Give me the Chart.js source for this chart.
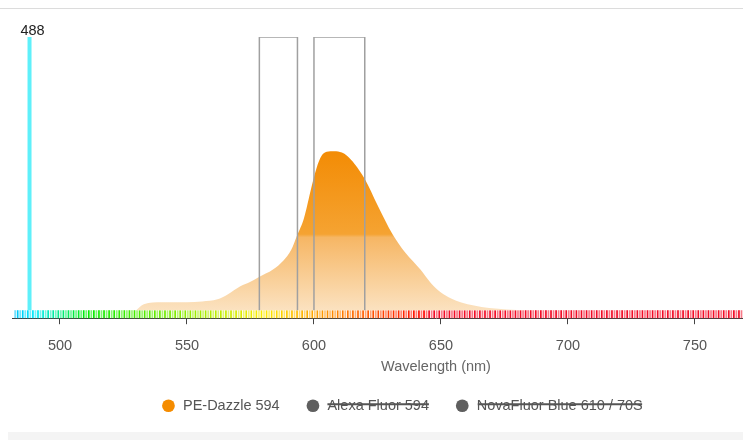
<!DOCTYPE html>
<html>
<head>
<meta charset="utf-8">
<title>PE-Dazzle 594</title>
<script src="https://cdn.jsdelivr.net/npm/chart.js@4.4.1/dist/chart.umd.min.js"></script>
<style>
  body { margin: 0; overflow: hidden; background: #fff; width: 743px; height: 440px; position: relative; }
  #linha { position: absolute; left: 0; top: 8px; width: 743px; height: 1px; background: #dcdcdc; }
  #rodape { position: absolute; left: 8px; top: 432px; width: 735px; height: 8px; background: #f4f4f4; }
  #grafico { position: absolute; left: 0; top: 0; }
</style>
</head>
<body>
<div id="linha"></div>
<div id="rodape"></div>
<canvas id="grafico" width="860" height="440"></canvas>

<script>
// espectro de emissao do PE-Dazzle 594 (% relativo)
const comprimentos = [530, 533, 540, 550, 556, 562, 566, 571, 575, 578, 584, 588, 591, 593.5, 596, 599, 601, 603, 605, 608, 611, 613, 616, 620, 625, 631, 636, 642, 646, 650, 654, 658, 663, 669, 676, 684];
const emissao = [0, 2.2, 2.9, 2.9, 3.2, 4.0, 5.8, 8.8, 10.4, 12.0, 15.0, 18.2, 22.0, 27.7, 33.5, 45.0, 52.0, 56.5, 58.0, 58.2, 57.7, 56.5, 53.5, 48.0, 38.5, 27.7, 21.0, 14.8, 10.0, 6.5, 4.3, 2.8, 1.7, 0.8, 0.3, 0];

// laser e filtros (centro / largura em nm)
const laser = 488;
const filtroCentro = [586, 610];
const filtroLargura = [15, 20];

const nomes = ['PE-Dazzle 594', 'Alexa Fluor 594', 'NovaFluor Blue 610 / 70S'];
const ticksX = [500, 550, 600, 650, 700, 750];

//cor aproximada de cada comprimento de onda
function corOnda(w, a) {
  let r = 0, g = 0, b = 0;
  if (w < 490) { r = 0; g = (w - 440) / 50; b = 1; }
  else if (w < 510) { r = 0; g = 1; b = (510 - w) / 20; }
  else if (w < 580) { r = (w - 510) / 70; g = 1; b = 0; }
  else if (w < 645) { r = 1; g = (645 - w) / 65; b = 0; }
  else { r = 0.95; g = 0.05; b = 0.15; }
  return 'rgba(' + Math.round(r * 255) + ',' + Math.round(g * 235) + ',' + Math.round(b * 250) + ',' + a + ')';
}

//faixa colorida embaixo do grafico
const faixa = {
  id: 'faixa',
  beforeDatasetsDraw(chart) {
    const {ctx, chartArea, scales: {x, y}} = chart;
    const topo = y.getPixelForValue(0);
    ctx.save();
    for (let nm = Math.ceil(x.min); nm <= x.max; nm++) {
      const px = x.getPixelForValue(nm);
      ctx.fillStyle = corOnda(nm, nm % 2 ? 1 : 0.55);
      ctx.fillRect(px, topo, 1.7, chartArea.bottom - topo);
    }
    ctx.restore();
  }
};

//texto do laser em cima da linha
const rotuloLaser = {
  id: 'rotuloLaser',
  afterDatasetsDraw(chart) {
    const {ctx, chartArea, scales: {x}} = chart;
    ctx.save();
    ctx.font = '14.5px "Liberation Sans", Arial, sans-serif';
    ctx.fillStyle = '#222';
    ctx.textAlign = 'center';
    ctx.textBaseline = 'middle';
    ctx.fillText(String(laser), x.getPixelForValue(laser) + 3, chartArea.top - 6);
    ctx.restore();
  }
};

//puxa a legenda um pouco pra esquerda
const legendaDesloca = {
  id: 'legendaDesloca',
  afterLayout(chart) {
    chart.legend.left -= 34;
    chart.legend.right -= 34;
  }
};

const dadosEspectro = comprimentos.map((w, i) => ({x: w, y: emissao[i]}));

const filtros = filtroCentro.map((c, i) => {
  const a = c - filtroLargura[i] / 2, b = c + filtroLargura[i] / 2;
  return {
    label: 'filtro ' + c + '/' + filtroLargura[i],
    data: [{x: a, y: 0}, {x: a, y: 100}, {x: b, y: 100}, {x: b, y: 0}],
    borderColor: 'rgb(160,160,160)',
    borderWidth: 1.5,
    pointRadius: 0,
    fill: false,
    order: -1
  };
});

Chart.defaults.font.family = '"Liberation Sans", Arial, sans-serif';
Chart.defaults.font.size = 14.5;

const grafico = new Chart(document.getElementById('grafico'), {
  type: 'line',
  data: {
    datasets: [
      {
        label: nomes[0],
        data: dadosEspectro,
        legendColor: 'rgb(245,140,0)',
        borderWidth: 0,
        pointRadius: 0,
        cubicInterpolationMode: 'monotone',
        fill: 'origin',
        backgroundColor: function (context) {
          const chart = context.chart;
          if (!chart.chartArea) return 'rgb(246,180,100)';
          const y = chart.scales.y;
          const g = chart.ctx.createLinearGradient(0, y.getPixelForValue(58), 0, y.getPixelForValue(0));
          g.addColorStop(0, 'rgb(243,140,5)');
          g.addColorStop(0.52, 'rgb(245,163,50)');
          g.addColorStop(0.54, 'rgb(246,182,100)');
          g.addColorStop(1, 'rgb(251,226,192)');
          return g;
        }
      },
      { label: nomes[1], data: [], hidden: true, legendColor: 'rgb(95,95,95)' },
      { label: nomes[2], data: [], hidden: true, legendColor: 'rgb(95,95,95)' },
      {
        label: 'laser',
        data: [{x: laser, y: 0}, {x: laser, y: 100}],
        borderColor: 'rgb(95,240,250)',
        borderWidth: 4,
        pointRadius: 0,
        fill: false
      },
      ...filtros
    ]
  },
  options: {
    responsive: false,
    animation: false,
    devicePixelRatio: 1,
    layout: { padding: { left: 12, top: 37, right: 0, bottom: 17 } },
    scales: {
      x: {
        type: 'linear',
        min: 481.1,
        max: 815,
        afterBuildTicks: function (axis) { axis.ticks = ticksX.map(v => ({value: v})); },
        ticks: { color: '#555', padding: 13 },
        grid: { drawOnChartArea: false, color: '#444', tickLength: 6 },
        border: { color: '#444' },
        title: { display: true, text: 'Wavelength (nm)', color: '#666', padding: { top: -9, bottom: -3.5 } }
      },
      y: { display: false, min: -2.92, max: 100 }
    },
    plugins: {
      tooltip: { enabled: false },
      legend: {
        position: 'bottom',
        labels: {
          usePointStyle: true,
          pointStyle: 'circle',
          boxWidth: 14.5,
          boxHeight: 9,
          padding: 26,
          color: '#555',
          generateLabels: function (chart) {
            const itens = Chart.defaults.plugins.legend.labels.generateLabels(chart);
            itens.forEach(function (it) {
              const ds = chart.data.datasets[it.datasetIndex];
              it.fillStyle = ds.legendColor;
              it.strokeStyle = ds.legendColor;
              it.lineWidth = 0;
              it.pointStyle = 'circle';
            });
            return itens;
          },
          filter: (item, data) => data.datasets[item.datasetIndex].legendColor !== undefined
        }
      }
    }
  },
  plugins: [faixa, rotuloLaser, legendaDesloca]
});
</script>
</body>
</html>
